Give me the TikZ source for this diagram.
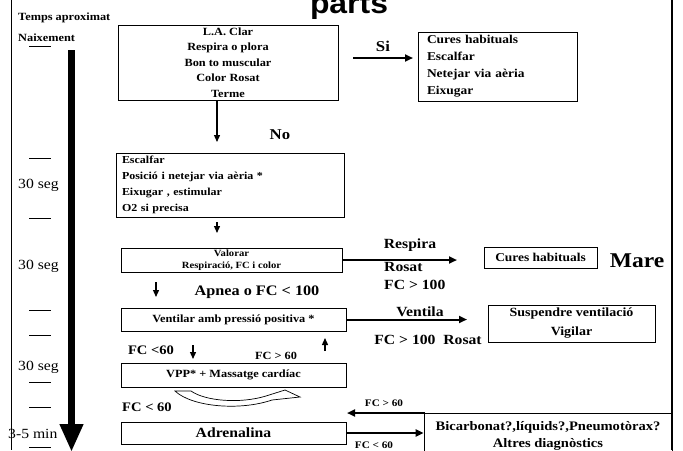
\documentclass[tikz,border=0pt]{standalone}
\usepackage{fontspec}
\setmainfont{Liberation Serif}[FakeStretch=1.12]
\setsansfont{Liberation Sans}[FakeStretch=1.1]
\usetikzlibrary{arrows.meta}
\newcommand{\mida}[2]{\fontsize{#1}{#2}\selectfont}
\tikzset{
  pas/.style={draw, line width=0.8pt, inner sep=0pt, font=\bfseries},
  etq/.style={inner sep=0pt, font=\bfseries\mida{14}{16}},
  temps/.style={inner sep=0pt, anchor=west, font=\mida{14}{14}},
  marca/.style={line width=0.8pt},
  fletxa/.style={line width=1.3pt, -{Triangle[length=7pt,width=6pt]}},
  gruixuda/.style={line width=2pt, -{Triangle[length=8pt,width=7pt]}},
  buida/.style={draw, line width=0.7pt, fill=white}
}

\begin{document}
\begin{tikzpicture}[x=1pt, y=-1pt]
  \clip (0,0) rectangle (683,450);
  % marc
  \draw[line width=1.2pt] (11.5,0) -- (11.5,450) (672,0) -- (672,450);
  \node[font=\sffamily\bfseries\mida{29}{29}, anchor=base, inner sep=0pt] (titol) at (349,13) {parts};

  % eix de temps
  \node[inner sep=0pt, anchor=base west, font=\bfseries\mida{11}{11}] (tempsaprox) at (18,20) {Temps aproximat};
  \node[inner sep=0pt, anchor=base west, font=\bfseries\mida{11}{11}] (naixement) at (18,41) {Naixement};
  \foreach \y in {46,158,218,310,335,382,407,447}
    \draw[marca] (29,\y) -- (51,\y);
  \node[temps] (seg1) at (18,185) {30 seg};
  \node[temps] (seg2) at (18,266) {30 seg};
  \node[temps] (seg3) at (18,367) {30 seg};
  \node[temps] (min) at (8,434) {3-5 min};
  \draw[line width=7pt, -{Triangle[length=28pt,width=22pt]}] (71.5,50) -- (71.5,452);

  % caixes
  \node[pas, minimum width=220pt, minimum height=75pt, align=center, font=\bfseries\mida{11}{15.5}]
    (clar) at (228,62.5) {L.A. Clar\\Respira o plora\\Bon to muscular\\Color Rosat\\Terme};
  \node[pas, minimum width=159pt, minimum height=69pt, inner xsep=9pt, text width=141pt, align=left,
    font=\bfseries\mida{12}{17}]
    (cures) at (497.5,66.5) {Cures habituals\\Escalfar\\Netejar via aèria\\Eixugar};
  \node[pas, minimum width=228pt, minimum height=64pt, inner xsep=6pt, text width=216pt, align=left,
    font=\bfseries\mida{10.7}{16}]
    (escalfar) at (230,185) {Escalfar\\Posició i netejar via aèria *\\Eixugar , estimular\\O2 si precisa};
  \node[pas, minimum width=221pt, minimum height=24pt, align=center, font=\bfseries\mida{9.5}{12}]
    (valorar) at (231.5,260) {Valorar\\Respiració, FC i color};
  \node[pas, minimum width=225pt, minimum height=23pt, font=\bfseries\mida{11}{13}]
    (ventilar) at (233.5,319.5) {Ventilar amb pressió positiva *};
  \node[pas, minimum width=225pt, minimum height=24pt, font=\bfseries\mida{11}{13}]
    (massatge) at (233.5,375) {VPP* + Massatge cardíac};
  \node[pas, minimum width=225pt, minimum height=22pt, font=\bfseries\mida{14}{16}]
    (adrenalina) at (233.5,433) {Adrenalina};
  \node[pas, minimum width=113pt, minimum height=21pt, font=\bfseries\mida{12}{14}]
    (habituals) at (540.5,257.5) {Cures habituals};
  \node[pas, minimum width=167pt, minimum height=37pt, align=center, font=\bfseries\mida{12.5}{19}]
    (suspendre) at (571.5,323.5) {Suspendre ventilació\\Vigilar};
  \node[pas, minimum width=248pt, minimum height=45pt, align=center, font=\bfseries\mida{13}{17}]
    (bicarbonat) at (548,435.5) {Bicarbonat?,líquids?,Pneumotòrax?\\Altres diagnòstics};
  \node[inner sep=0pt, font=\bfseries\mida{21}{21}] (mare) at (637,261) {Mare};

  % etiquetes
  \node[etq, font=\bfseries\mida{15}{15}] (si) at (383,46) {Si};
  \node[etq, font=\bfseries\mida{15}{15}] (no) at (280,135) {No};
  \node[etq] (respira) at (410,245) {Respira};
  \node[etq, anchor=west] (rosat) at (384,267) {Rosat};
  \node[etq, anchor=west] (fc100) at (384,285) {FC > 100};
  \node[etq, font=\bfseries\mida{14.5}{16}] (apnea) at (257,292) {Apnea o FC < 100};
  \node[etq] (ventila) at (420,312) {Ventila};
  \node[etq] (fcrosat) at (428,340) {FC > 100\ \ Rosat};
  \node[etq, font=\bfseries\mida{13}{15}] (fcmenys1) at (151,350) {FC <60};
  \node[etq, font=\bfseries\mida{11}{13}] (fcmes1) at (276,356) {FC > 60};
  \node[etq, font=\bfseries\mida{13}{15}] (fcmenys2) at (147,407) {FC < 60};
  \node[etq, font=\bfseries\mida{10}{12}] (fcmes2) at (384,403) {FC > 60};
  \node[etq, font=\bfseries\mida{10}{12}] (fcmenys3) at (374,445) {FC < 60};

  % punts lliures
  \coordinate (si0) at (353,58);
  \coordinate (si1) at (413,58);
  \coordinate (no1) at (217,142);
  \coordinate (esc0) at (217,222);
  \coordinate (esc1) at (217,233);
  \coordinate (resp1) at (457,260);
  \coordinate (apn0) at (156,282);
  \coordinate (apn1) at (156,297);
  \coordinate (vent1) at (467,319.5);
  \coordinate (baix0) at (193,345);
  \coordinate (baix1) at (193,359);
  \coordinate (dalt0) at (325,351);
  \coordinate (dalt1) at (325,338);
  \coordinate (torna0) at (425,413);
  \coordinate (torna1) at (347,413);

  % fletxes
  \draw[gruixuda] (si0) -- (si1);
  \draw[fletxa] (clar.south -| no1) -- (no1);
  \draw[fletxa] (esc0) -- (esc1);
  \draw[gruixuda] (valorar.east) -- (resp1);
  \draw[fletxa] (apn0) -- (apn1);
  \draw[gruixuda] (ventilar.east) -- (vent1);
  \draw[fletxa] (baix0) -- (baix1);
  \draw[fletxa] (dalt0) -- (dalt1);
  \draw[gruixuda] (torna0) -- (torna1);
  \draw[gruixuda] (adrenalina.east) -- (adrenalina.east -| bicarbonat.west);

  % fletxa corba buida
  \draw[buida] (175,391) -- (191,391) .. controls (205,401) and (240,404) .. (266,396)
    -- (285,390) -- (300,397) -- (272,400) .. controls (240,411) and (192,407) .. cycle;
\end{tikzpicture}
\end{document}
